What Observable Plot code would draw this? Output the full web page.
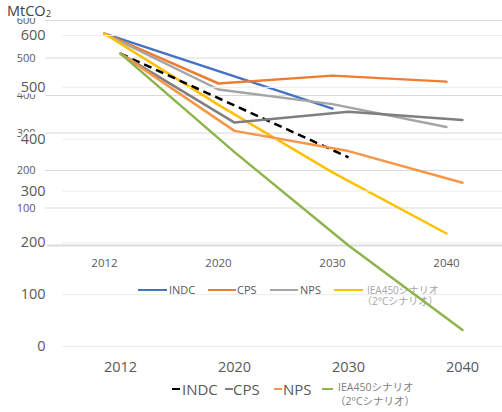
<!DOCTYPE html>
<html>
<head>
<meta charset="utf-8">
<script src="https://cdn.jsdelivr.net/npm/d3@7"></script>
<script src="https://cdn.jsdelivr.net/npm/@observablehq/plot@0.6"></script>
<style>
  body { margin: 0; background: #fff; }
  #wrap { position: relative; width: 502px; height: 412px; overflow: hidden; font-family: "Open Sans", sans-serif; background: #fff; }
  #wrap svg { position: absolute; left: 0; top: 0; background: transparent; }
  .item { position: absolute; white-space: nowrap; }
  .sw { position: absolute; }
  .jp { font-family: "Open Sans", "Noto Sans CJK JP", sans-serif; }
  #title { position: absolute; left: 7px; top: 1px; height: 17px; padding-right: 2px; background: #fff; color: #404040; font-size: 14.5px; line-height: 20px; }
  #title sub { font-size: 9.5px; vertical-align: -1px; line-height: 0; }
</style>
</head>
<body>
<div id="wrap"></div>
<script>
// ---- data ----
const years = ["2012", "2020", "2030", "2040"];
const seriesKeys = ["INDC", "CPS", "NPS", "IEA450"];
const indc   = [565, null, 365, null];
const cps    = [565, 432, 453, 437];
const nps    = [565, 416, 377, 316];
const iea450 = [565, 375, 195, 32];
const yTicks = [0, 100, 200, 300, 400, 500, 600];
const legendLabels = ["INDC", "CPS", "NPS", "IEA450シナリオ", "（2°Cシナリオ）"];

const seriesValues = [indc, cps, nps, iea450];
const rows = seriesKeys.flatMap((k, i) =>
  seriesValues[i].map((v, j) => ({series: k, year: years[j], value: v})).filter(d => d.value != null)
);
const of = k => rows.filter(d => d.series === k);

// ---- styles ----
const colorsA = {INDC: "#4472C4", CPS: "#ED7D31", NPS: "#A5A5A5", IEA450: "#FFC000"};
const colorsB = {INDC: "#000000", CPS: "#7F7F7F", NPS: "#F79646", IEA450: "#8DB54B"};

const wrap = document.getElementById("wrap");

// ---- back chart (small) ----
const plotA = Plot.plot({
  width: 502, height: 280,
  marginLeft: 45, marginRight: 0, marginTop: 20, marginBottom: 35,
  style: {background: "transparent", fontFamily: "'Open Sans', sans-serif", color: "#595959"},
  x: {type: "point", domain: years, range: [103.5, 447], padding: 0, label: null},
  y: {domain: [0, 600], range: [245, 20], label: null},
  marks: [
    Plot.gridY(yTicks, {stroke: "#d9d9d9", strokeOpacity: 1, strokeWidth: 1}),
    Plot.ruleY([0], {stroke: "#dcdcdc", strokeWidth: 2}),
    Plot.axisY(yTicks, {tickSize: 0, tickPadding: 10, fontSize: 11, color: "#595959", label: null}),
    Plot.axisX(years, {tickSize: 0, tickPadding: 13, fontSize: 11.5, color: "#595959", label: null}),
    ...seriesKeys.map(k => Plot.line(of(k), {x: "year", y: "value", stroke: colorsA[k], strokeWidth: 2.5}))
  ]
});
wrap.appendChild(plotA);

// legend helper
function addLegend(items, opts) {
  items.forEach(it => {
    const sw = document.createElement("div");
    sw.className = "sw";
    Object.assign(sw.style, {left: it.sx + "px", width: it.sw + "px", top: (opts.cy - opts.th / 2) + "px", height: opts.th + "px", background: it.color});
    wrap.appendChild(sw);
    it.lines.forEach(ln => {
      const t = document.createElement("div");
      t.className = "item jp";
      t.textContent = ln.text;
      Object.assign(t.style, {left: ln.x + "px", top: (ln.cy - ln.fs * 0.7) + "px", fontSize: ln.fs + "px", lineHeight: (ln.fs * 1.4) + "px", color: ln.color});
      wrap.appendChild(t);
    });
  });
}

addLegend([
  {sx: 138, sw: 29, color: colorsA.INDC, lines: [{text: legendLabels[0], x: 169, cy: 290, fs: 11, color: "#595959"}]},
  {sx: 208, sw: 28, color: colorsA.CPS, lines: [{text: legendLabels[1], x: 237, cy: 290, fs: 11, color: "#595959"}]},
  {sx: 270, sw: 28, color: colorsA.NPS, lines: [{text: legendLabels[2], x: 300, cy: 290, fs: 11, color: "#595959"}]},
  {sx: 334, sw: 29, color: colorsA.IEA450, lines: [
    {text: legendLabels[3], x: 367, cy: 290, fs: 10, color: "#a6a6a6"},
    {text: legendLabels[4], x: 362, cy: 301, fs: 10, color: "#a6a6a6"}
  ]}
], {cy: 290, th: 2.5});

// ---- front chart (large) ----
const plotB = Plot.plot({
  width: 502, height: 412,
  marginLeft: 62, marginRight: 0, marginTop: 35, marginBottom: 66,
  style: {background: "transparent", fontFamily: "'Open Sans', sans-serif", color: "#595959"},
  x: {type: "point", domain: years, range: [120, 462], padding: 0, label: null},
  y: {domain: [0, 600], range: [346, 35], label: null},
  marks: [
    Plot.gridY(yTicks, {stroke: "#ededed", strokeOpacity: 1, strokeWidth: 1}),
    Plot.axisY(yTicks, {tickSize: 0, tickPadding: 17, fontSize: 14.5, color: "#595959", textStroke: "white", textStrokeWidth: 5, label: null}),
    Plot.axisX(years, {tickSize: 0, tickPadding: 15, fontSize: 14.5, color: "#595959", label: null}),
    Plot.line(of("INDC"), {x: "year", y: "value", stroke: colorsB.INDC, strokeWidth: 2.5, strokeDasharray: "8,5", strokeLinecap: "butt"}),
    ...["CPS", "NPS", "IEA450"].map(k => Plot.line(of(k), {x: "year", y: "value", stroke: colorsB[k], strokeWidth: 2.5}))
  ]
});
wrap.appendChild(plotB);

addLegend([
  {sx: 172, sw: 8, color: colorsB.INDC, lines: [{text: legendLabels[0], x: 182, cy: 389, fs: 15, color: "#595959"}]},
  {sx: 225, sw: 8, color: colorsB.CPS, lines: [{text: legendLabels[1], x: 233, cy: 389, fs: 15, color: "#595959"}]},
  {sx: 274, sw: 8, color: colorsB.NPS, lines: [{text: legendLabels[2], x: 283, cy: 389, fs: 15, color: "#595959"}]},
  {sx: 322, sw: 11, color: colorsB.IEA450, lines: [
    {text: legendLabels[3], x: 338, cy: 387, fs: 10.5, color: "#808080"},
    {text: legendLabels[4], x: 335, cy: 401, fs: 10.5, color: "#808080"}
  ]}
], {cy: 389, th: 2.5});

// title
const title = document.createElement("div");
title.id = "title";
title.innerHTML = "MtCO<sub>2</sub>";
wrap.appendChild(title);
</script>
</body>
</html>
